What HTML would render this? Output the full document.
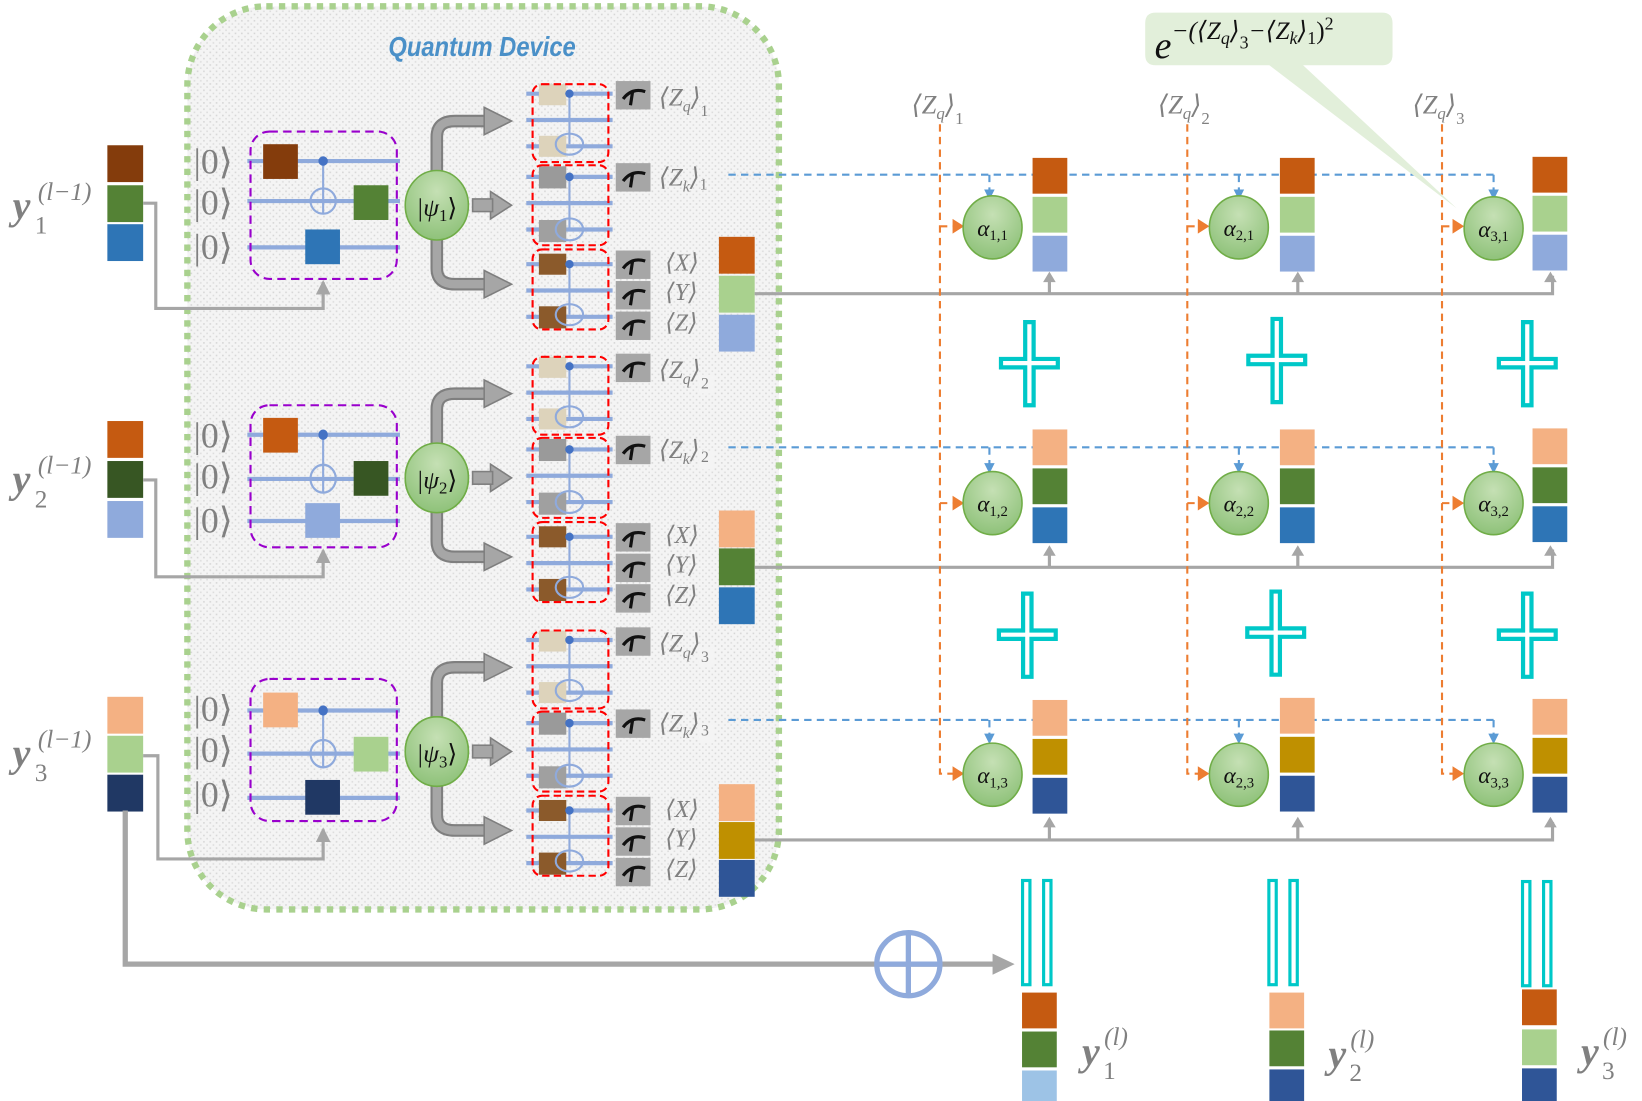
<!DOCTYPE html>
<html><head><meta charset="utf-8"><style>
html,body{margin:0;padding:0;background:#fff;}
svg{display:block;}
text{font-family:"Liberation Serif","DejaVu Serif",serif;}
</style></head><body>
<svg width="1642" height="1101" viewBox="0 0 1560 1046" preserveAspectRatio="none" xmlns="http://www.w3.org/2000/svg">
<defs>
<pattern id="dots" width="6" height="6" patternUnits="userSpaceOnUse">
<rect width="6" height="6" fill="#f4f4f4"/><rect x="1" y="1" width="1.5" height="1.5" fill="#d6d6d6"/><rect x="4" y="4" width="1.5" height="1.5" fill="#dcdcdc"/>
</pattern>
<radialGradient id="gg" cx="50%" cy="30%" r="70%"><stop offset="0" stop-color="#c5e0b4"/><stop offset="1" stop-color="#8fc27a"/></radialGradient>
<marker id="agl" markerWidth="14" markerHeight="14" refX="12" refY="7" orient="auto" markerUnits="userSpaceOnUse"><path d="M0,0 L14,7 L0,14z" fill="#a6a6a6"/></marker>
<g id="meter"><rect width="33" height="27" fill="#a6a6a6"/><path d="M7,17 Q15,6 28,10" stroke="#111" stroke-width="3" fill="none"/><path d="M16,10 L14,23" stroke="#111" stroke-width="3"/></g>
<g id="cnot"><path d="M0,0 V48" stroke="#8faadc" stroke-width="2"/><circle cx="0" cy="0" r="4" fill="#4472c4"/><ellipse cx="0" cy="48" rx="13" ry="10" fill="none" stroke="#8faadc" stroke-width="2"/></g>
<g id="cnot2"><path d="M0,0 V50" stroke="#8faadc" stroke-width="2"/><circle cx="0" cy="0" r="4.5" fill="#4472c4"/><ellipse cx="0" cy="38" rx="12" ry="12" fill="none" stroke="#8faadc" stroke-width="2"/></g>
<g id="plus"><path d="M-6,-43 H6 V-8 H29 V4 H6 V40 H-6 V4 H-29 V-8 H-6 Z" fill="#00c8c8"/><path d="M0,-39 V36 M-25,-2 H25" stroke="#fff" stroke-width="4"/></g>
<g id="eq"><rect x="0" y="0" width="10" height="102" fill="#00c8c8"/><rect x="3" y="3" width="4" height="96" fill="#fff"/><rect x="20" y="0" width="10" height="102" fill="#00c8c8"/><rect x="23" y="3" width="4" height="96" fill="#fff"/></g>
</defs>

<rect x="178" y="6" width="562" height="858" rx="75" fill="url(#dots)" stroke="#a9d18e" stroke-width="6" stroke-dasharray="6,6"/>
<text x="458" y="53" text-anchor="middle" font-style="italic" font-weight="bold" font-size="26" fill="#4a90c8" style="font-family:'Liberation Sans',sans-serif" textLength="178" lengthAdjust="spacingAndGlyphs">Quantum Device</text>

<g>
<rect x="102" y="138" width="34" height="35" fill="#843c0c"/><rect x="102" y="176" width="34" height="35" fill="#548235"/><rect x="102" y="213" width="34" height="35" fill="#2e75b6"/>
<text x="12" y="208" font-size="38" font-weight="bold" font-style="italic" fill="#808080">y</text><text x="33" y="222" font-size="24" fill="#808080">1</text><text x="36" y="190" font-size="24" font-style="italic" fill="#808080">(l−1)</text>
<text x="184" y="165" font-size="34" fill="#808080">|0⟩</text><text x="184" y="204" font-size="34" fill="#808080">|0⟩</text><text x="184" y="246" font-size="34" fill="#808080">|0⟩</text>
<path d="M235,153 H380 M235,191 H380 M235,235 H380" stroke="#8faadc" stroke-width="4"/>
<rect x="238" y="125" width="139" height="140" rx="18" fill="none" stroke="#9900cc" stroke-width="2" stroke-dasharray="8,5"/>
<rect x="250" y="137" width="33" height="33" fill="#843c0c"/>
<use href="#cnot2" x="307" y="153"/>
<rect x="336" y="176" width="33" height="33" fill="#548235"/>
<rect x="290" y="218" width="33" height="33" fill="#2e75b6"/>
<path d="M136,193 H148 V293 H307 V268" stroke="#a6a6a6" stroke-width="3" fill="none" marker-end="url(#agl)"/>
</g>
<g transform="translate(0,260)">
<rect x="102" y="140" width="34" height="35" fill="#c55a11"/><rect x="102" y="178" width="34" height="35" fill="#375623"/><rect x="102" y="216" width="34" height="35" fill="#8faadc"/>
<text x="12" y="208" font-size="38" font-weight="bold" font-style="italic" fill="#808080">y</text><text x="33" y="222" font-size="24" fill="#808080">2</text><text x="36" y="190" font-size="24" font-style="italic" fill="#808080">(l−1)</text>
<text x="184" y="165" font-size="34" fill="#808080">|0⟩</text><text x="184" y="204" font-size="34" fill="#808080">|0⟩</text><text x="184" y="246" font-size="34" fill="#808080">|0⟩</text>
<path d="M235,153 H380 M235,195 H380 M235,235 H380" stroke="#8faadc" stroke-width="4"/>
<rect x="238" y="125" width="139" height="135" rx="18" fill="none" stroke="#9900cc" stroke-width="2" stroke-dasharray="8,5"/>
<rect x="250" y="137" width="33" height="33" fill="#c55a11"/>
<g transform="translate(307,153) scale(1,1.1)"><use href="#cnot2"/></g>
<rect x="336" y="178" width="33" height="33" fill="#375623"/>
<rect x="290" y="218" width="33" height="33" fill="#8faadc"/>
<path d="M136,196 H148 V288 H307 V263" stroke="#a6a6a6" stroke-width="3" fill="none" marker-end="url(#agl)"/>
</g>
<g transform="translate(0,520)">
<rect x="102" y="142" width="34" height="35" fill="#f4b183"/><rect x="102" y="179" width="34" height="35" fill="#a9d18e"/><rect x="102" y="216" width="34" height="35" fill="#203864"/>
<text x="12" y="208" font-size="38" font-weight="bold" font-style="italic" fill="#808080">y</text><text x="33" y="222" font-size="24" fill="#808080">3</text><text x="36" y="190" font-size="24" font-style="italic" fill="#808080">(l−1)</text>
<text x="184" y="165" font-size="34" fill="#808080">|0⟩</text><text x="184" y="204" font-size="34" fill="#808080">|0⟩</text><text x="184" y="246" font-size="34" fill="#808080">|0⟩</text>
<path d="M235,155 H380 M235,196 H380 M235,238 H380" stroke="#8faadc" stroke-width="4"/>
<rect x="238" y="125" width="139" height="135" rx="18" fill="none" stroke="#9900cc" stroke-width="2" stroke-dasharray="8,5"/>
<rect x="250" y="138" width="33" height="33" fill="#f4b183"/>
<g transform="translate(307,155) scale(1,1.08)"><use href="#cnot2"/></g>
<rect x="336" y="180" width="33" height="33" fill="#a9d18e"/>
<rect x="290" y="221" width="33" height="33" fill="#203864"/>
<path d="M136,198 H150 V296 H307 V268" stroke="#a6a6a6" stroke-width="3" fill="none" marker-end="url(#agl)"/>
</g>

<g id="blk1">
<path d="M415,165 V130 Q415,115 432,115 H462 M415,225 V255 Q415,270 432,270 H462" stroke="#7f7f7f" stroke-width="12" fill="none"/>
<path d="M415,165 V130 Q415,115 432,115 H464 M415,225 V255 Q415,270 432,270 H464" stroke="#a6a6a6" stroke-width="8" fill="none"/>
<path d="M460,102 L486,115 L460,128 Z M460,257 L486,270 L460,283 Z M466,182 L486,195 L466,208 Z" fill="#a6a6a6" stroke="#7f7f7f" stroke-width="1.5"/>
<rect x="449" y="189" width="19" height="12" fill="#a6a6a6" stroke="#7f7f7f" stroke-width="1.5"/>
<ellipse cx="415" cy="195" rx="30" ry="33" fill="url(#gg)" stroke="#70ad47" stroke-width="1.5"/>
<text x="415" y="205" text-anchor="middle" font-size="24" font-style="italic" fill="#111">|ψ<tspan font-size="16" font-style="normal" dy="5">1</tspan><tspan dy="-5" font-style="normal">⟩</tspan></text>
<path d="M500,89 H582 M500,114 H582 M500,139 H582 M500,168 H582 M500,193 H582 M500,218 H582 M500,251 H582 M500,276 H582 M500,301 H582" stroke="#8faadc" stroke-width="4"/>
<rect x="512" y="80" width="26" height="20" fill="#ddd3bb"/><rect x="512" y="129" width="26" height="20" fill="#ddd3bb"/>
<rect x="512" y="158" width="26" height="21" fill="#9a9a9a"/><rect x="512" y="209" width="26" height="21" fill="#a0a0a0"/>
<rect x="512" y="241" width="26" height="20" fill="#8b5a2b"/><rect x="512" y="291" width="26" height="21" fill="#8b5a2b"/>
<use href="#cnot" x="541" y="89"/>
<g transform="translate(541,168) scale(1,1.04)"><use href="#cnot"/></g>
<use href="#cnot" x="541" y="251"/>
<rect x="506" y="80" width="72" height="74" rx="9" fill="none" stroke="#ff0000" stroke-width="2" stroke-dasharray="7,4"/>
<rect x="506" y="157" width="72" height="76" rx="9" fill="none" stroke="#ff0000" stroke-width="2" stroke-dasharray="7,4"/>
<rect x="506" y="237" width="72" height="76" rx="9" fill="none" stroke="#ff0000" stroke-width="2" stroke-dasharray="7,4"/>
<use href="#meter" x="585" y="77"/><use href="#meter" x="585" y="155"/>
<use href="#meter" x="585" y="238"/><use href="#meter" x="585" y="267"/><use href="#meter" x="585" y="296"/>
<text x="626" y="100" font-size="24" font-style="italic" fill="#808080">⟨Z<tspan font-size="15" dy="6">q</tspan><tspan dy="-6">⟩</tspan><tspan font-size="15" font-style="normal" dy="10">1</tspan></text>
<text x="626" y="176" font-size="24" font-style="italic" fill="#808080">⟨Z<tspan font-size="15" dy="6">k</tspan><tspan dy="-6">⟩</tspan><tspan font-size="15" font-style="normal" dy="4">1</tspan></text>
<text x="632" y="257" font-size="23" font-style="italic" fill="#808080">⟨X⟩</text>
<text x="632" y="285" font-size="23" font-style="italic" fill="#808080">⟨Y⟩</text>
<text x="632" y="314" font-size="23" font-style="italic" fill="#808080">⟨Z⟩</text>
</g>
<use href="#blk1" y="259"/>
<use href="#blk1" y="519"/>
<rect x="664" y="356" width="14" height="18" fill="#f4f4f4"/><text x="666" y="369" font-size="15" fill="#808080">2</text>
<rect x="664" y="428" width="14" height="18" fill="#f4f4f4"/><text x="666" y="439" font-size="15" fill="#808080">2</text>
<rect x="664" y="616" width="14" height="18" fill="#f4f4f4"/><text x="666" y="629" font-size="15" fill="#808080">3</text>
<rect x="664" y="688" width="14" height="18" fill="#f4f4f4"/><text x="666" y="699" font-size="15" fill="#808080">3</text>
<ellipse cx="415" cy="454" rx="30" ry="33" fill="url(#gg)" stroke="#70ad47" stroke-width="1.5"/>
<text x="415" y="464" text-anchor="middle" font-size="24" font-style="italic" fill="#111">|ψ<tspan font-size="16" font-style="normal" dy="5">2</tspan><tspan dy="-5" font-style="normal">⟩</tspan></text>
<ellipse cx="415" cy="714" rx="30" ry="33" fill="url(#gg)" stroke="#70ad47" stroke-width="1.5"/>
<text x="415" y="724" text-anchor="middle" font-size="24" font-style="italic" fill="#111">|ψ<tspan font-size="16" font-style="normal" dy="5">3</tspan><tspan dy="-5" font-style="normal">⟩</tspan></text>

<rect x="683" y="225" width="34" height="35" fill="#c55a11"/><rect x="683" y="262" width="34" height="35" fill="#a9d18e"/><rect x="683" y="299" width="34" height="35" fill="#8faadc"/>
<rect x="683" y="485" width="34" height="35" fill="#f4b183"/><rect x="683" y="521" width="34" height="35" fill="#548235"/><rect x="683" y="558" width="34" height="35" fill="#2e75b6"/>
<rect x="683" y="745" width="34" height="35" fill="#f4b183"/><rect x="683" y="781" width="34" height="35" fill="#bf9000"/><rect x="683" y="817" width="34" height="35" fill="#2f5597"/>

<path d="M717,279 H1475 V262 M997,279 V262 M1233,279 V262" stroke="#a6a6a6" stroke-width="3" fill="none"/>
<path d="M717,539 H1475 V522 M997,539 V522 M1233,539 V522" stroke="#a6a6a6" stroke-width="3" fill="none"/>
<path d="M717,798 H1475 V781 M997,798 V781 M1233,798 V781" stroke="#a6a6a6" stroke-width="3" fill="none"/>
<g fill="#a6a6a6">
<path d="M991,268 L997,258 L1003,268Z M1227,268 L1233,258 L1239,268Z M1467,268 L1473,258 L1479,268Z"/>
<path d="M991,528 L997,518 L1003,528Z M1227,528 L1233,518 L1239,528Z M1467,528 L1473,518 L1479,528Z"/>
<path d="M991,786 L997,776 L1003,786Z M1227,786 L1233,776 L1239,786Z M1467,786 L1473,776 L1479,786Z"/>
</g>

<g stroke="#5b9bd5" stroke-width="2" stroke-dasharray="7,5" fill="none">
<path d="M692,166 H1419 M940,166 V184 M1177,166 V184 M1419,166 V184"/>
<path d="M692,425 H1419 M940,425 V444 M1177,425 V444 M1419,425 V444"/>
<path d="M692,684 H1419 M940,684 V700 M1177,684 V700 M1419,684 V700"/>
</g>
<g fill="#5b9bd5">
<path d="M935,180 L940,190 L945,180Z M1172,180 L1177,190 L1182,180Z M1414,180 L1419,190 L1424,180Z"/>
<path d="M935,440 L940,450 L945,440Z M1172,440 L1177,450 L1182,440Z M1414,440 L1419,450 L1424,440Z"/>
<path d="M935,697 L940,707 L945,697Z M1172,697 L1177,707 L1182,697Z M1414,697 L1419,707 L1424,697Z"/>
</g>

<g stroke="#ed7d31" stroke-width="2" stroke-dasharray="7,5" fill="none">
<path d="M893,118 V735 H908 M893,215 H908 M893,478 H908"/>
<path d="M1128,118 V735 H1140 M1128,215 H1140 M1128,478 H1140"/>
<path d="M1370,118 V735 H1382 M1370,215 H1382 M1370,478 H1382"/>
</g>
<g fill="#ed7d31">
<path d="M905,208 L916,215 L905,222Z M905,471 L916,478 L905,485Z M905,728 L916,735 L905,742Z"/>
<path d="M1138,208 L1149,215 L1138,222Z M1138,471 L1149,478 L1138,485Z M1138,728 L1149,735 L1138,742Z"/>
<path d="M1380,208 L1391,215 L1380,222Z M1380,471 L1391,478 L1380,485Z M1380,728 L1391,735 L1380,742Z"/>
</g>
<text x="866" y="108" font-size="25" font-style="italic" fill="#808080">⟨Z<tspan font-size="16" dy="5">q</tspan><tspan dy="-5">⟩</tspan><tspan font-size="16" font-style="normal" dy="10">1</tspan></text>
<text x="1100" y="108" font-size="25" font-style="italic" fill="#808080">⟨Z<tspan font-size="16" dy="5">q</tspan><tspan dy="-5">⟩</tspan><tspan font-size="16" font-style="normal" dy="10">2</tspan></text>
<text x="1342" y="108" font-size="25" font-style="italic" fill="#808080">⟨Z<tspan font-size="16" dy="5">q</tspan><tspan dy="-5">⟩</tspan><tspan font-size="16" font-style="normal" dy="10">3</tspan></text>

<path d="M1090,12 H1313 Q1323,12 1323,22 V52 Q1323,62 1313,62 H1238 L1384,198 L1206,62 H1098 Q1088,62 1088,52 V22 Q1088,12 1098,12Z" fill="#e2efda"/>
<text x="1097" y="55" font-size="36" font-style="italic" fill="#111">e<tspan font-size="24" dy="-18">−(⟨Z</tspan><tspan font-size="17" dy="5">q</tspan><tspan font-size="24" dy="-5">⟩</tspan><tspan font-size="17" font-style="normal" dy="9">3</tspan><tspan font-size="24" dy="-9">−⟨Z</tspan><tspan font-size="17" dy="5">k</tspan><tspan font-size="24" dy="-5">⟩</tspan><tspan font-size="17" font-style="normal" dy="5">1</tspan><tspan font-size="24" font-style="normal" dy="-5">)</tspan><tspan font-size="17" font-style="normal" dy="-9">2</tspan></text>

<g font-size="22" font-style="italic" fill="#111" text-anchor="middle">
<ellipse cx="943" cy="216" rx="28" ry="30" fill="url(#gg)" stroke="#70ad47" stroke-width="1.5"/><text x="943" y="224">α<tspan font-size="14" font-style="normal" dy="4">1,1</tspan></text>
<ellipse cx="1177" cy="216" rx="28" ry="30" fill="url(#gg)" stroke="#70ad47" stroke-width="1.5"/><text x="1177" y="224">α<tspan font-size="14" font-style="normal" dy="4">2,1</tspan></text>
<ellipse cx="1419" cy="217" rx="28" ry="30" fill="url(#gg)" stroke="#70ad47" stroke-width="1.5"/><text x="1419" y="225">α<tspan font-size="14" font-style="normal" dy="4">3,1</tspan></text>
<ellipse cx="943" cy="478" rx="28" ry="30" fill="url(#gg)" stroke="#70ad47" stroke-width="1.5"/><text x="943" y="486">α<tspan font-size="14" font-style="normal" dy="4">1,2</tspan></text>
<ellipse cx="1177" cy="478" rx="28" ry="30" fill="url(#gg)" stroke="#70ad47" stroke-width="1.5"/><text x="1177" y="486">α<tspan font-size="14" font-style="normal" dy="4">2,2</tspan></text>
<ellipse cx="1419" cy="478" rx="28" ry="30" fill="url(#gg)" stroke="#70ad47" stroke-width="1.5"/><text x="1419" y="486">α<tspan font-size="14" font-style="normal" dy="4">3,2</tspan></text>
<ellipse cx="943" cy="736" rx="28" ry="30" fill="url(#gg)" stroke="#70ad47" stroke-width="1.5"/><text x="943" y="744">α<tspan font-size="14" font-style="normal" dy="4">1,3</tspan></text>
<ellipse cx="1177" cy="736" rx="28" ry="30" fill="url(#gg)" stroke="#70ad47" stroke-width="1.5"/><text x="1177" y="744">α<tspan font-size="14" font-style="normal" dy="4">2,3</tspan></text>
<ellipse cx="1419" cy="736" rx="28" ry="30" fill="url(#gg)" stroke="#70ad47" stroke-width="1.5"/><text x="1419" y="744">α<tspan font-size="14" font-style="normal" dy="4">3,3</tspan></text>
</g>

<g>
<rect x="981" y="150" width="33" height="34" fill="#c55a11"/><rect x="981" y="187" width="33" height="34" fill="#a9d18e"/><rect x="981" y="224" width="33" height="34" fill="#8faadc"/>
<rect x="1216" y="150" width="33" height="34" fill="#c55a11"/><rect x="1216" y="187" width="33" height="34" fill="#a9d18e"/><rect x="1216" y="224" width="33" height="34" fill="#8faadc"/>
<rect x="1456" y="149" width="33" height="34" fill="#c55a11"/><rect x="1456" y="186" width="33" height="34" fill="#a9d18e"/><rect x="1456" y="223" width="33" height="34" fill="#8faadc"/>
<rect x="981" y="408" width="33" height="34" fill="#f4b183"/><rect x="981" y="445" width="33" height="34" fill="#548235"/><rect x="981" y="482" width="33" height="34" fill="#2e75b6"/>
<rect x="1216" y="408" width="33" height="34" fill="#f4b183"/><rect x="1216" y="445" width="33" height="34" fill="#548235"/><rect x="1216" y="482" width="33" height="34" fill="#2e75b6"/>
<rect x="1456" y="407" width="33" height="34" fill="#f4b183"/><rect x="1456" y="444" width="33" height="34" fill="#548235"/><rect x="1456" y="481" width="33" height="34" fill="#2e75b6"/>
<rect x="981" y="665" width="33" height="34" fill="#f4b183"/><rect x="981" y="702" width="33" height="34" fill="#bf9000"/><rect x="981" y="739" width="33" height="34" fill="#2f5597"/>
<rect x="1216" y="663" width="33" height="34" fill="#f4b183"/><rect x="1216" y="700" width="33" height="34" fill="#bf9000"/><rect x="1216" y="737" width="33" height="34" fill="#2f5597"/>
<rect x="1456" y="664" width="33" height="34" fill="#f4b183"/><rect x="1456" y="701" width="33" height="34" fill="#bf9000"/><rect x="1456" y="738" width="33" height="34" fill="#2f5597"/>
</g>

<use href="#plus" x="978" y="347"/><use href="#plus" x="1213" y="344"/><use href="#plus" x="1451" y="347"/>
<use href="#plus" x="976" y="605"/><use href="#plus" x="1212" y="603"/><use href="#plus" x="1451" y="605"/>

<use href="#eq" x="970" y="835"/><use href="#eq" x="1204" y="835"/><use href="#eq" x="1445" y="836"/>

<rect x="971" y="943" width="33" height="34" fill="#c55a11"/><rect x="971" y="980" width="33" height="34" fill="#548235"/><rect x="971" y="1017" width="33" height="34" fill="#9dc3e6"/>
<rect x="1206" y="943" width="33" height="34" fill="#f4b183"/><rect x="1206" y="979" width="33" height="34" fill="#548235"/><rect x="1206" y="1016" width="33" height="34" fill="#2f5597"/>
<rect x="1446" y="940" width="33" height="34" fill="#c55a11"/><rect x="1446" y="978" width="33" height="34" fill="#a9d18e"/><rect x="1446" y="1015" width="33" height="34" fill="#2f5597"/>
<g fill="#808080">
<text x="1028" y="1012" font-size="38" font-weight="bold" font-style="italic">y</text><text x="1048" y="1025" font-size="24">1</text><text x="1049" y="993" font-size="24" font-style="italic">(l)</text>
<text x="1262" y="1014" font-size="38" font-weight="bold" font-style="italic">y</text><text x="1282" y="1027" font-size="24">2</text><text x="1283" y="995" font-size="24" font-style="italic">(l)</text>
<text x="1502" y="1012" font-size="38" font-weight="bold" font-style="italic">y</text><text x="1522" y="1025" font-size="24">3</text><text x="1523" y="993" font-size="24" font-style="italic">(l)</text>
</g>

<path d="M119,770 V916 H945" stroke="#a6a6a6" stroke-width="5" fill="none"/>
<path d="M943,906 L964,916 L943,926Z" fill="#a6a6a6"/>
<ellipse cx="863" cy="916" rx="30" ry="30" fill="none" stroke="#8faadc" stroke-width="5"/>
<path d="M863,886 V946 M833,916 H893" stroke="#8faadc" stroke-width="5"/>
</svg>
</body></html>
